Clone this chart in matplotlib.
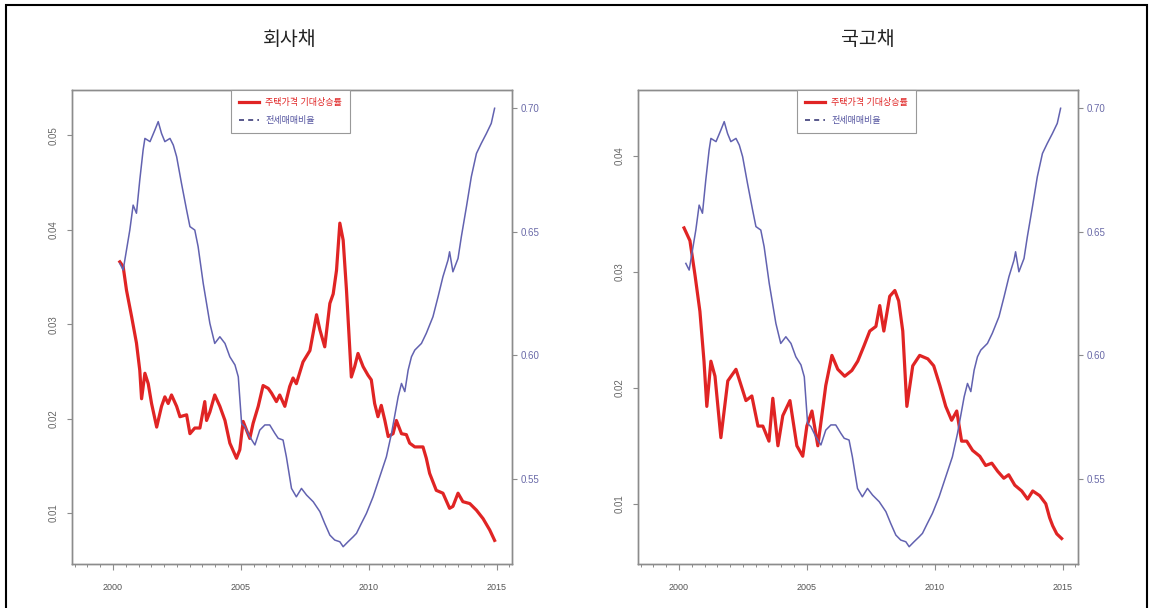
import numpy as np
import matplotlib
matplotlib.use("Agg")
import matplotlib.pyplot as plt
from matplotlib.lines import Line2D
from matplotlib.patches import Rectangle

plt.rcParams['font.family'] = ['Liberation Sans', 'Noto Sans CJK KR', 'DejaVu Sans']

# ---- data ----
panel_titles = ['회사채', '국고채']
label_rate = '주택가격 기대상승률'
label_ratio = '전세매매비율'

# expected house price growth, corporate bond discount
corp_years = [2000.27, 2000.40, 2000.53, 2000.73, 2000.92, 2001.05, 2001.12, 2001.25, 2001.38, 2001.51,
              2001.71, 2001.90, 2002.03, 2002.16, 2002.29, 2002.49, 2002.62, 2002.88, 2003.01, 2003.20,
              2003.40, 2003.59, 2003.66, 2003.79, 2003.98, 2004.18, 2004.38, 2004.57, 2004.83, 2004.96,
              2005.09, 2005.22, 2005.35, 2005.48, 2005.68, 2005.87, 2006.07, 2006.20, 2006.39, 2006.52,
              2006.72, 2006.91, 2007.04, 2007.17, 2007.43, 2007.70, 2007.96, 2008.09, 2008.28, 2008.48,
              2008.61, 2008.74, 2008.87, 2009.00, 2009.13, 2009.32, 2009.45, 2009.58, 2009.78, 2009.97,
              2010.10, 2010.23, 2010.36, 2010.49, 2010.63, 2010.76, 2010.95, 2011.08, 2011.28, 2011.47,
              2011.60, 2011.80, 2012.12, 2012.25, 2012.38, 2012.64, 2012.90, 2013.16, 2013.29, 2013.49,
              2013.68, 2013.95, 2014.21, 2014.47, 2014.73, 2014.92]
corp_rate = [0.0366, 0.0361, 0.0336, 0.0308, 0.0280, 0.0251, 0.0221, 0.0248, 0.0237, 0.0216,
             0.0191, 0.0213, 0.0223, 0.0216, 0.0225, 0.0213, 0.0202, 0.0204, 0.0184, 0.0190,
             0.0190, 0.0218, 0.0198, 0.0207, 0.0225, 0.0213, 0.0198, 0.0174, 0.0158, 0.0167,
             0.0197, 0.0188, 0.0179, 0.0195, 0.0213, 0.0235, 0.0232, 0.0227, 0.0218, 0.0225,
             0.0213, 0.0234, 0.0243, 0.0237, 0.0260, 0.0272, 0.0310, 0.0294, 0.0276, 0.0322,
             0.0332, 0.0357, 0.0407, 0.0389, 0.0336, 0.0244, 0.0255, 0.0269, 0.0255, 0.0246,
             0.0241, 0.0216, 0.0202, 0.0214, 0.0198, 0.0181, 0.0184, 0.0198, 0.0184, 0.0183,
             0.0174, 0.0170, 0.0170, 0.0158, 0.0142, 0.0124, 0.0121, 0.0105, 0.0107, 0.0121,
             0.0112, 0.0110, 0.0103, 0.0094, 0.0082, 0.0071]

# expected house price growth, treasury bond discount
gov_years = [2000.20, 2000.43, 2000.63, 2000.82, 2000.98, 2001.09, 2001.25, 2001.41, 2001.64, 2001.91,
             2002.23, 2002.62, 2002.85, 2003.09, 2003.28, 2003.52, 2003.67, 2003.87, 2004.06, 2004.34,
             2004.61, 2004.84, 2005.00, 2005.20, 2005.43, 2005.74, 2005.98, 2006.21, 2006.48, 2006.76,
             2006.99, 2007.23, 2007.46, 2007.70, 2007.85, 2008.01, 2008.24, 2008.44, 2008.59, 2008.75,
             2008.91, 2009.14, 2009.41, 2009.73, 2009.96, 2010.20, 2010.43, 2010.66, 2010.86, 2011.05,
             2011.25, 2011.48, 2011.76, 2011.99, 2012.23, 2012.46, 2012.70, 2012.89, 2013.13, 2013.40,
             2013.63, 2013.83, 2014.10, 2014.34, 2014.49, 2014.61, 2014.77, 2014.96]
gov_rate = [0.0338, 0.0327, 0.0297, 0.0266, 0.0223, 0.0184, 0.0223, 0.0210, 0.0157, 0.0206,
            0.0216, 0.0189, 0.0193, 0.0167, 0.0167, 0.0154, 0.0191, 0.0150, 0.0176, 0.0189,
            0.0150, 0.0141, 0.0167, 0.0180, 0.0150, 0.0202, 0.0228, 0.0216, 0.0210, 0.0215,
            0.0223, 0.0236, 0.0249, 0.0253, 0.0271, 0.0249, 0.0279, 0.0284, 0.0275, 0.0249,
            0.0184, 0.0219, 0.0228, 0.0225, 0.0219, 0.0202, 0.0184, 0.0172, 0.0180, 0.0154,
            0.0154, 0.0146, 0.0141, 0.0133, 0.0135, 0.0128, 0.0122, 0.0125, 0.0116, 0.0111,
            0.0104, 0.0111, 0.0107, 0.0100, 0.0088, 0.0081, 0.0074, 0.0070]

# jeonse-to-sale price ratio (same series on both panels)
ratio_years = [2000.27, 2000.40, 2000.53, 2000.66, 2000.79, 2000.92, 2001.05, 2001.18, 2001.25, 2001.45,
               2001.64, 2001.77, 2001.90, 2002.03, 2002.23, 2002.36, 2002.49, 2002.68, 2002.88, 2003.01,
               2003.20, 2003.33, 2003.53, 2003.66, 2003.79, 2003.98, 2004.18, 2004.38, 2004.57, 2004.77,
               2004.90, 2005.03, 2005.16, 2005.35, 2005.55, 2005.74, 2005.94, 2006.13, 2006.33, 2006.46,
               2006.65, 2006.78, 2006.98, 2007.17, 2007.37, 2007.57, 2007.83, 2008.09, 2008.28, 2008.48,
               2008.67, 2008.87, 2009.00, 2009.19, 2009.39, 2009.52, 2009.71, 2009.91, 2010.17, 2010.43,
               2010.69, 2010.89, 2011.02, 2011.15, 2011.28, 2011.41, 2011.54, 2011.67, 2011.80, 2012.06,
               2012.25, 2012.51, 2012.71, 2012.90, 2013.10, 2013.16, 2013.29, 2013.49, 2013.62, 2013.82,
               2014.01, 2014.21, 2014.40, 2014.60, 2014.79, 2014.92]
ratio_vals = [0.6371, 0.6344, 0.6425, 0.6506, 0.6607, 0.6574, 0.6709, 0.6830, 0.6877, 0.6864,
              0.6911, 0.6945, 0.6897, 0.6864, 0.6877, 0.6850, 0.6803, 0.6695, 0.6587, 0.6520,
              0.6506, 0.6439, 0.6290, 0.6209, 0.6128, 0.6047, 0.6074, 0.6047, 0.5993, 0.5960,
              0.5912, 0.5723, 0.5710, 0.5669, 0.5636, 0.5696, 0.5717, 0.5717, 0.5683, 0.5663,
              0.5656, 0.5588, 0.5460, 0.5426, 0.5460, 0.5433, 0.5406, 0.5366, 0.5318, 0.5271,
              0.5251, 0.5244, 0.5224, 0.5244, 0.5264, 0.5278, 0.5318, 0.5359, 0.5426, 0.5507,
              0.5588, 0.5683, 0.5757, 0.5831, 0.5885, 0.5852, 0.5939, 0.5993, 0.6020, 0.6047,
              0.6088, 0.6155, 0.6236, 0.6317, 0.6385, 0.6418, 0.6337, 0.6391, 0.6479, 0.6601,
              0.6722, 0.6816, 0.6857, 0.6897, 0.6938, 0.6999]

rate_ticks = [[0.01, 0.02, 0.03, 0.04, 0.05], [0.01, 0.02, 0.03, 0.04]]
rate_ylims = [(0.0046, 0.0548), (0.0048, 0.0457)]
ratio_ticks = [0.55, 0.60, 0.65, 0.70]
year_ticks = [2000, 2005, 2010, 2015]

RED = '#e02424'
BLUE = '#6262b0'
GREY = '#8c8c8c'

fig = plt.figure(figsize=(11.52, 6.08), dpi=100)

# outer frame, open at the bottom edge
fig.patches.append(Rectangle((6 / 1152, -0.02), 1141 / 1152, 1.0 - 5 / 608 + 0.02,
                             transform=fig.transFigure, fill=False, edgecolor='black',
                             linewidth=1.5, clip_on=False))

axes_left = [72 / 1152, 638 / 1152]
rate_series = [(corp_years, corp_rate), (gov_years, gov_rate)]
title_x = [290 / 1152, 868 / 1152]

for i in range(2):
    ax = fig.add_axes([axes_left[i], 44 / 608, 440 / 1152, 474 / 608])
    ax2 = ax.twinx()

    yrs, rate = rate_series[i]
    ax.plot(yrs, rate, color=RED, linewidth=2.3, solid_joinstyle='round')
    ax2.plot(ratio_years, ratio_vals, color=BLUE, linewidth=1.1)

    ax.set_xlim(1998.4, 2015.6)
    ax.set_ylim(*rate_ylims[i])
    ax2.set_ylim(0.5154, 0.7073)

    ax.set_xticks(year_ticks)
    ax.set_xticklabels([str(y) for y in year_ticks])
    ax.set_xticks(np.arange(1998.5, 2015.6, 0.5), minor=True)
    ax.set_yticks(rate_ticks[i])
    ax.set_yticklabels(['%.2f' % v for v in rate_ticks[i]], rotation=90, va='center')
    ax2.set_yticks(ratio_ticks)
    ax2.set_yticklabels(['%.2f' % v for v in ratio_ticks])

    ax.tick_params(axis='x', which='major', length=4.5, width=0.8, color=GREY,
                   labelsize=6.5, labelcolor='#555555', pad=9.5)
    ax.tick_params(axis='x', which='minor', length=2.5, width=0.7, color=GREY)
    ax.tick_params(axis='y', length=3.5, width=0.8, color=GREY,
                   labelsize=7, labelcolor='#666666', pad=6)
    ax2.tick_params(axis='y', length=3.5, width=0.8, color=GREY,
                    labelsize=7, labelcolor='#6a6aa8', pad=3)

    for a in (ax, ax2):
        for s in a.spines.values():
            s.set_color(GREY)
            s.set_linewidth(1.0)

    handles = [Line2D([], [], color=RED, linewidth=2.3),
               Line2D([], [], color='#3c3c78', linewidth=1.2, linestyle=(0, (3, 2.5)))]
    leg = ax2.legend(handles, [label_rate, label_ratio], loc='upper left',
                     bbox_to_anchor=(0.361, 1.0), borderaxespad=0, fontsize=6.5,
                     handlelength=2.2, handletextpad=0.7, labelspacing=1.0,
                     borderpad=0.9, fancybox=False, framealpha=1, edgecolor='#999999')
    leg.get_frame().set_linewidth(0.8)
    leg.get_texts()[0].set_color(RED)
    leg.get_texts()[1].set_color('#5555a0')

    fig.text(title_x[i], 1 - 40 / 608, panel_titles[i], ha='center', va='center',
             fontsize=14, color='#222222')

fig.savefig('out.png', dpi=100)
